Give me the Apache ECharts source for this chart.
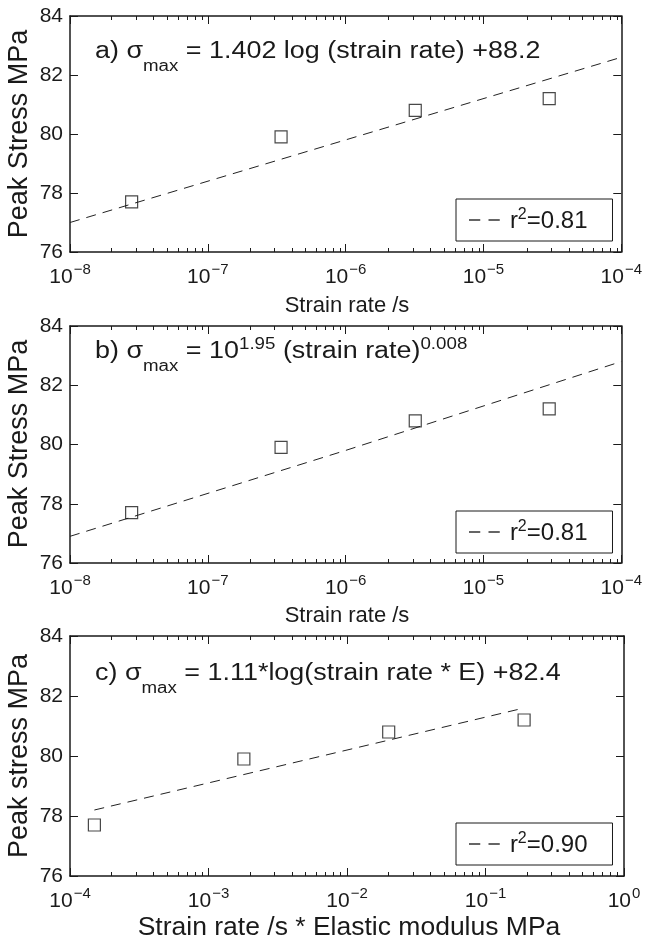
<!DOCTYPE html>
<html>
<head>
<meta charset="utf-8">
<script src="https://cdn.jsdelivr.net/npm/echarts@6/dist/echarts.min.js"></script>
<style>
html,body{margin:0;padding:0;background:#fff;}
#chart{width:645px;height:944px;}
</style>
</head>
<body>
<div id="chart"></div>
<script>
// ---- data ----
const strainRateAB = [2.8e-8, 3.4e-7, 3.2e-6, 3.0e-5];
const peakStressA = [77.7, 79.9, 80.8, 81.2];
const peakStressB = [77.7, 79.9, 80.8, 81.2];
const fitAx = [1e-8, 1e-4];
const fitAy = [77.0, 82.6];
const fitBx = [1e-8, 1e-6, 1e-4];
const fitBy = [76.9, 79.8, 82.8];
const strainRateE = [1.5e-4, 1.8e-3, 2.0e-2, 1.9e-1];
const peakStressC = [77.7, 79.9, 80.8, 81.2];
const fitCx = [1.5e-4, 0.19];
const fitCy = [78.2, 81.6];
const expTicksAB = [-8, -7, -6, -5, -4];
const expTicksC = [-4, -3, -2, -1, 0];
const yTicks = [76, 78, 80, 82, 84];
const legendTexts = ['0.81', '0.81', '0.90'];

const FONT = '"Liberation Sans", Arial, Helvetica, sans-serif';
const INK = '#1a1a1a';
const TICK = '#1a1a1a';

const grids = [
  {left: 70, top: 16, width: 554, height: 236},
  {left: 70, top: 326, width: 554, height: 237},
  {left: 70, top: 636, width: 554, height: 240}
];

function decades(exps){ return exps.map(e => Math.pow(10, e)); }
function minors(exps){
  const out = [];
  for (let i = 0; i < exps.length - 1; i++) {
    for (let d = 2; d <= 9; d++) out.push(d * Math.pow(10, exps[i]));
  }
  return out;
}
function zip(xs, ys){ return xs.map((x, i) => [x, ys[i]]); }

const panelExps = [expTicksAB, expTicksAB, expTicksC];

const xAxes = [], yAxes = [], allGrids = [];
panelExps.forEach((exps, k) => { allGrids.push(Object.assign({}, grids[k])); });
panelExps.forEach((exps, k) => { allGrids.push(Object.assign({}, grids[k])); });

const supRich = {
  b: {fontSize: 21, fontFamily: FONT, color: INK, lineHeight: 26, verticalAlign: 'bottom'},
  s: {fontSize: 15, fontFamily: FONT, color: INK, lineHeight: 15, verticalAlign: 'top', padding: [0, 0, 0, 1]}
};

panelExps.forEach((exps, k) => {
  const min = Math.pow(10, exps[0]), max = Math.pow(10, exps[exps.length - 1]);
  const majors = decades(exps);
  xAxes.push({
    type: 'log', logBase: 10, gridIndex: k, position: 'bottom', min: min, max: max,
    axisLine: {show: true, lineStyle: {color: INK, width: 1.5}},
    axisTick: {show: true, inside: true, length: 8, customValues: majors, lineStyle: {color: TICK, width: 1}},
    axisLabel: {show: true, customValues: majors, margin: 10,
      formatter: v => { const e = Math.round(Math.log10(v)); return '{b|10}{s|' + (e < 0 ? '\u2212' + (-e) : e) + '}'; },
      rich: supRich},
    splitLine: {show: false}
  });
  xAxes.push({
    type: 'log', logBase: 10, gridIndex: k, position: 'top', min: min, max: max,
    axisLine: {show: true, lineStyle: {color: INK, width: 1.5}},
    axisTick: {show: true, inside: true, length: 8, customValues: majors, lineStyle: {color: TICK, width: 1}},
    axisLabel: {show: false}, splitLine: {show: false}
  });
  yAxes.push({
    type: 'value', gridIndex: k, position: 'left', min: 76, max: 84, interval: 2,
    axisLine: {show: true, lineStyle: {color: INK, width: 1.5}},
    axisTick: {show: true, inside: true, length: 8, lineStyle: {color: TICK, width: 1}},
    axisLabel: {show: true, fontSize: 21, fontFamily: FONT, color: INK, margin: 7},
    splitLine: {show: false}
  });
  yAxes.push({
    type: 'value', gridIndex: k, position: 'right', min: 76, max: 84, interval: 2,
    axisLine: {show: true, lineStyle: {color: INK, width: 1.5}},
    axisTick: {show: true, inside: true, length: 8, lineStyle: {color: TICK, width: 1}},
    axisLabel: {show: false}, splitLine: {show: false}
  });
});
panelExps.forEach((exps, k) => {
  const min = Math.pow(10, exps[0]), max = Math.pow(10, exps[exps.length - 1]);
  const mins = minors(exps);
  ['bottom', 'top'].forEach(pos => {
    xAxes.push({
      type: 'log', logBase: 10, gridIndex: 3 + k, position: pos, min: min, max: max,
      axisLine: {show: false},
      axisTick: {show: true, inside: true, length: 4, customValues: mins, lineStyle: {color: TICK, width: 1}},
      axisLabel: {show: false}, splitLine: {show: false}
    });
  });
  yAxes.push({type: 'value', gridIndex: 3 + k, min: 76, max: 84, show: false});
});

const scatterStyle = {color: 'rgba(0,0,0,0)', borderColor: INK, borderWidth: 1.2};
const dashStyle = {color: '#222', width: 1, type: [10, 7]};
const pointData = [zip(strainRateAB, peakStressA), zip(strainRateAB, peakStressB), zip(strainRateE, peakStressC)];
const fitData = [zip(fitAx, fitAy), zip(fitBx, fitBy), zip(fitCx, fitCy)];
const fitNames = ['fitA', 'fitB', 'fitC'];

const series = [];
[0, 1, 2].forEach(k => {
  series.push({
    name: fitNames[k], type: 'line', xAxisIndex: 2 * k, yAxisIndex: 2 * k, color: INK,
    data: fitData[k], symbol: 'none', smooth: false, lineStyle: dashStyle, silent: true, z: 2
  });
  series.push({
    name: 'pts' + k, type: 'scatter', xAxisIndex: 2 * k, yAxisIndex: 2 * k,
    data: pointData[k], symbol: 'rect', symbolSize: 12, itemStyle: scatterStyle, z: 3
  });
});

const legendTops = [199, 511, 823];
const legends = [0, 1, 2].map(k => ({
  data: [{name: fitNames[k], icon: 'path://M0,0h15v2h-15z M26,0h15v2h-15z'}],
  left: 456, top: legendTops[k], orient: 'horizontal',
  borderColor: INK, borderWidth: 1, padding: [8, 25, 8, 13], backgroundColor: '#fff',
  itemWidth: 41, itemHeight: 1.5, itemGap: 0,
  itemStyle: {color: '#333', borderWidth: 0},
  textStyle: {fontFamily: FONT, color: INK, fontSize: 24,
    rich: {
      r: {fontSize: 24, fontFamily: FONT, color: INK, lineHeight: 26, verticalAlign: 'bottom'},
      s: {fontSize: 16, fontFamily: FONT, color: INK, lineHeight: 15, verticalAlign: 'top'}
    }},
  formatter: () => '{r|r}{s|2}{r|=' + legendTexts[k] + '}'
}));

const annRich = {
  n: {fontSize: 23, fontFamily: FONT, fill: INK, lineHeight: 46, verticalAlign: 'middle'},
  sub: {fontSize: 16, fontFamily: FONT, fill: INK, lineHeight: 16, verticalAlign: 'bottom'},
  sup: {fontSize: 16, fontFamily: FONT, fill: INK, lineHeight: 16, verticalAlign: 'bottom', padding: [0, 0, 22, 0]}
};
function ann(text, x, y){
  return {type: 'text', x: x, y: y, scaleX: 1.17, z: 10,
    style: {text: text, rich: annRich, fill: INK, font: '23px ' + FONT, textAlign: 'left', textVerticalAlign: 'top'}};
}
function title(text, x, y, size, rot){
  return {type: 'text', x: x, y: y, rotation: rot || 0, z: 10,
    style: {text: text, fill: INK, font: size + 'px ' + FONT, textAlign: 'center', textVerticalAlign: 'middle'}};
}

const graphics = [
  ann('{n|a) \u03c3}{sub|max}{n| = 1.402 log (strain rate) +88.2}', 95, 29),
  ann('{n|b) \u03c3}{sub|max}{n| = 10}{sup|1.95}{n| (strain rate)}{sup|0.008}', 95, 329),
  ann('{n|c) \u03c3}{sub|max}{n| = 1.11*log(strain rate * E) +82.4}', 95, 651),
  title('Peak Stress MPa', 20, 134, 27, Math.PI / 2),
  title('Peak Stress MPa', 20, 444, 27, Math.PI / 2),
  title('Peak stress MPa', 20, 756, 27, Math.PI / 2),
  title('Strain rate /s', 347, 306, 22),
  title('Strain rate /s', 347, 616, 22),
  title('Strain rate /s * Elastic modulus MPa', 349, 928, 26.5)
];

const chart = echarts.init(document.getElementById('chart'), null, {renderer: 'canvas'});
chart.setOption({
  animation: false,
  backgroundColor: '#fff',
  grid: allGrids,
  xAxis: xAxes,
  yAxis: yAxes,
  legend: legends,
  series: series,
  graphic: graphics
});
</script>
</body>
</html>
